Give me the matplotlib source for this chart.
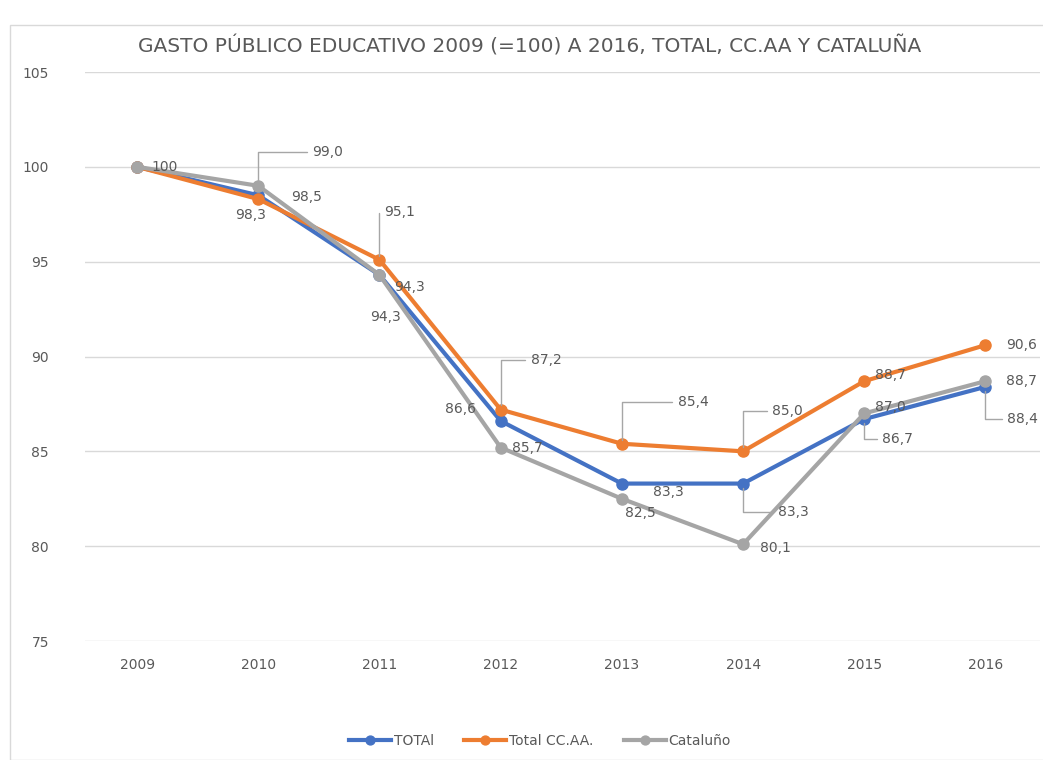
import matplotlib
matplotlib.use("Agg")
import matplotlib.pyplot as plt
from matplotlib.patches import Rectangle

years = ["2009", "2010", "2011", "2012", "2013", "2014", "2015", "2016"]
total = [100, 98.5, 94.3, 86.6, 83.3, 83.3, 86.7, 88.4]
total_ccaa = [100, 98.3, 95.1, 87.2, 85.4, 85.0, 88.7, 90.6]
cataluna = [100, 99.0, 94.3, 85.2, 82.5, 80.1, 87.0, 88.7]
cataluna_labels = ["", "99,0", "94,3", "85,7", "82,5", "80,1", "87,0", "88,7"]
series_names = ["TOTAl", "Total CC.AA.", "Cataluño"]

colors = ["#4472C4", "#ED7D31", "#A5A5A5"]
txt = "#595959"

# label offsets in pixels (dx, dy) and whether a leader line is drawn
off_total = [None, (48, -2, False), (30, -12, False), (-40, 12, False), (46, -8, False),
             (35, -28, True), (18, -20, True), (22, -32, True)]
off_ccaa = [(28, 0, False), (-8, -16, False), (5, 48, True), (30, 50, True), (56, 42, True),
            (29, 40, True), (26, 6, False), (36, 0, False)]
off_cat = [None, (54, 34, True), (6, -42, False), (27, 0, False), (18, -14, False),
           (32, -4, False), (26, 6, False), (36, 0, False)]

fig = plt.figure(figsize=(10.43, 7.6), dpi=100)
fig.patches.append(Rectangle((10/1043, 0), 1040/1043, (760-25)/760, transform=fig.transFigure,
                             fill=False, edgecolor="#D9D9D9", linewidth=1))
ax = fig.add_axes([85/1043, 1-641/760, (1040-85)/1043, (641-72)/760])

x = list(range(len(years)))
for vals, c, name in zip([total, total_ccaa, cataluna], colors, series_names):
    ax.plot(x, vals, color=c, lw=3, marker="o", ms=8, label=name, zorder=3)

ax.set_ylim(75, 105)
ax.set_xlim(-0.43, 7.45)
ax.set_yticks([75, 80, 85, 90, 95, 100, 105])
ax.set_xticks(x)
ax.set_xticklabels(years)
ax.grid(axis="y", color="#D9D9D9", lw=1)
ax.set_axisbelow(True)
for s in ax.spines.values():
    s.set_visible(False)
ax.tick_params(length=0, colors=txt, labelsize=10)
ax.tick_params(axis="y", pad=26)
ax.tick_params(axis="x", pad=12)

def fmt(v):
    return ("%.1f" % v).replace(".", ",")

def lab(xi, yi, text, off):
    dx, dy, leader = off
    if leader:
        ax.annotate(text, (xi, yi), xytext=(dx, dy), textcoords="offset pixels",
                    ha="left", va="center", fontsize=10, color=txt,
                    arrowprops=dict(arrowstyle="-", color="#A6A6A6", lw=1,
                                    connectionstyle="angle,angleA=0,angleB=90,rad=0",
                                    shrinkA=2, shrinkB=3))
    else:
        ax.annotate(text, (xi, yi), xytext=(dx, dy), textcoords="offset pixels",
                    ha="center", va="center", fontsize=10, color=txt)

for i in range(len(years)):
    if off_total[i] is not None:
        lab(i, total[i], fmt(total[i]), off_total[i])
    lab(i, total_ccaa[i], "100" if i == 0 else fmt(total_ccaa[i]), off_ccaa[i])
    if off_cat[i] is not None:
        lab(i, cataluna[i], cataluna_labels[i], off_cat[i])

fig.text(530/1043, 1-46/760, "GASTO PÚBLICO EDUCATIVO 2009 (=100) A 2016, TOTAL, CC.AA Y CATALUÑA",
         ha="center", va="center", fontsize=14.5, color=txt, family=["DejaVu Sans"])

leg = fig.legend(loc="center", bbox_to_anchor=(540/1043, 1-741/760), ncol=3, frameon=False,
                 fontsize=10, labelcolor=txt, handlelength=3, columnspacing=2.2, handletextpad=0.2,
                 markerscale=0.8)

fig.savefig("out.png", dpi=100)
